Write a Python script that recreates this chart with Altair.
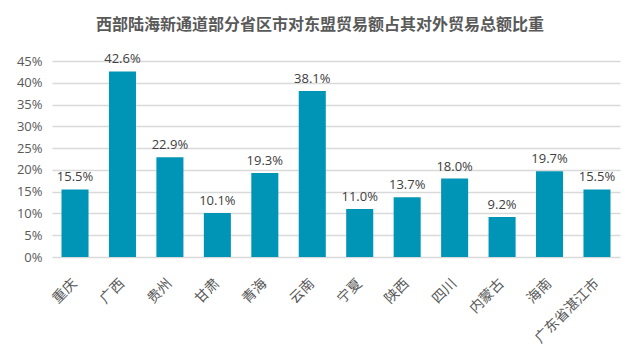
import altair as alt
import pandas as pd

categories = ["重庆", "广西", "贵州", "甘肃", "青海", "云南", "宁夏", "陕西", "四川", "内蒙古", "海南", "广东省湛江市"]
values = [15.5, 42.6, 22.9, 10.1, 19.3, 38.1, 11.0, 13.7, 18.0, 9.2, 19.7, 15.5]
y_ticks = [0, 0.05, 0.10, 0.15, 0.20, 0.25, 0.30, 0.35, 0.40, 0.45]

df = pd.DataFrame({"cat": categories, "val": [v / 100 for v in values]})

base = alt.Chart(df).encode(
    x=alt.X("cat:N", sort=categories, title=None,
            scale=alt.Scale(paddingInner=0.43, paddingOuter=0.2),
            axis=alt.Axis(labelAngle=-45, labelAlign="right", labelBaseline="middle",
                          labelFont="Noto Sans CJK SC", labelFontSize=14, labelColor="#595959",
                          ticks=False, domain=False, labelPadding=24)),
    y=alt.Y("val:Q", title=None,
            scale=alt.Scale(domain=[0, 0.45], nice=False),
            axis=alt.Axis(values=y_ticks, format=".0%", labelFont="Open Sans", labelFontSize=13,
                          labelColor="#595959", ticks=False, domain=False, gridColor="#d9d9d9",
                          gridWidth=1.5, labelPadding=10)),
)

bars = base.mark_bar(color="#0095B6")
labels = base.mark_text(dy=-12, font="Open Sans", fontSize=13, color="#404040").encode(
    text=alt.Text("val:Q", format=".1%"))

chart = (bars + labels).properties(
    width=568, height=196,
    title=alt.Title("西部陆海新通道部分省区市对东盟贸易额占其对外贸易总额比重",
                    font="Noto Sans CJK SC", fontSize=16, fontWeight="bold", color="#595959",
                    anchor="middle", dx=-16, offset=20),
    autosize=alt.AutoSizeParams(type="none"),
    padding={"left": 44, "top": 53, "right": 12, "bottom": 110},
    background="white",
).configure_view(stroke=None)

chart.save("out.html", embed_options={"renderer": "svg", "actions": False})
